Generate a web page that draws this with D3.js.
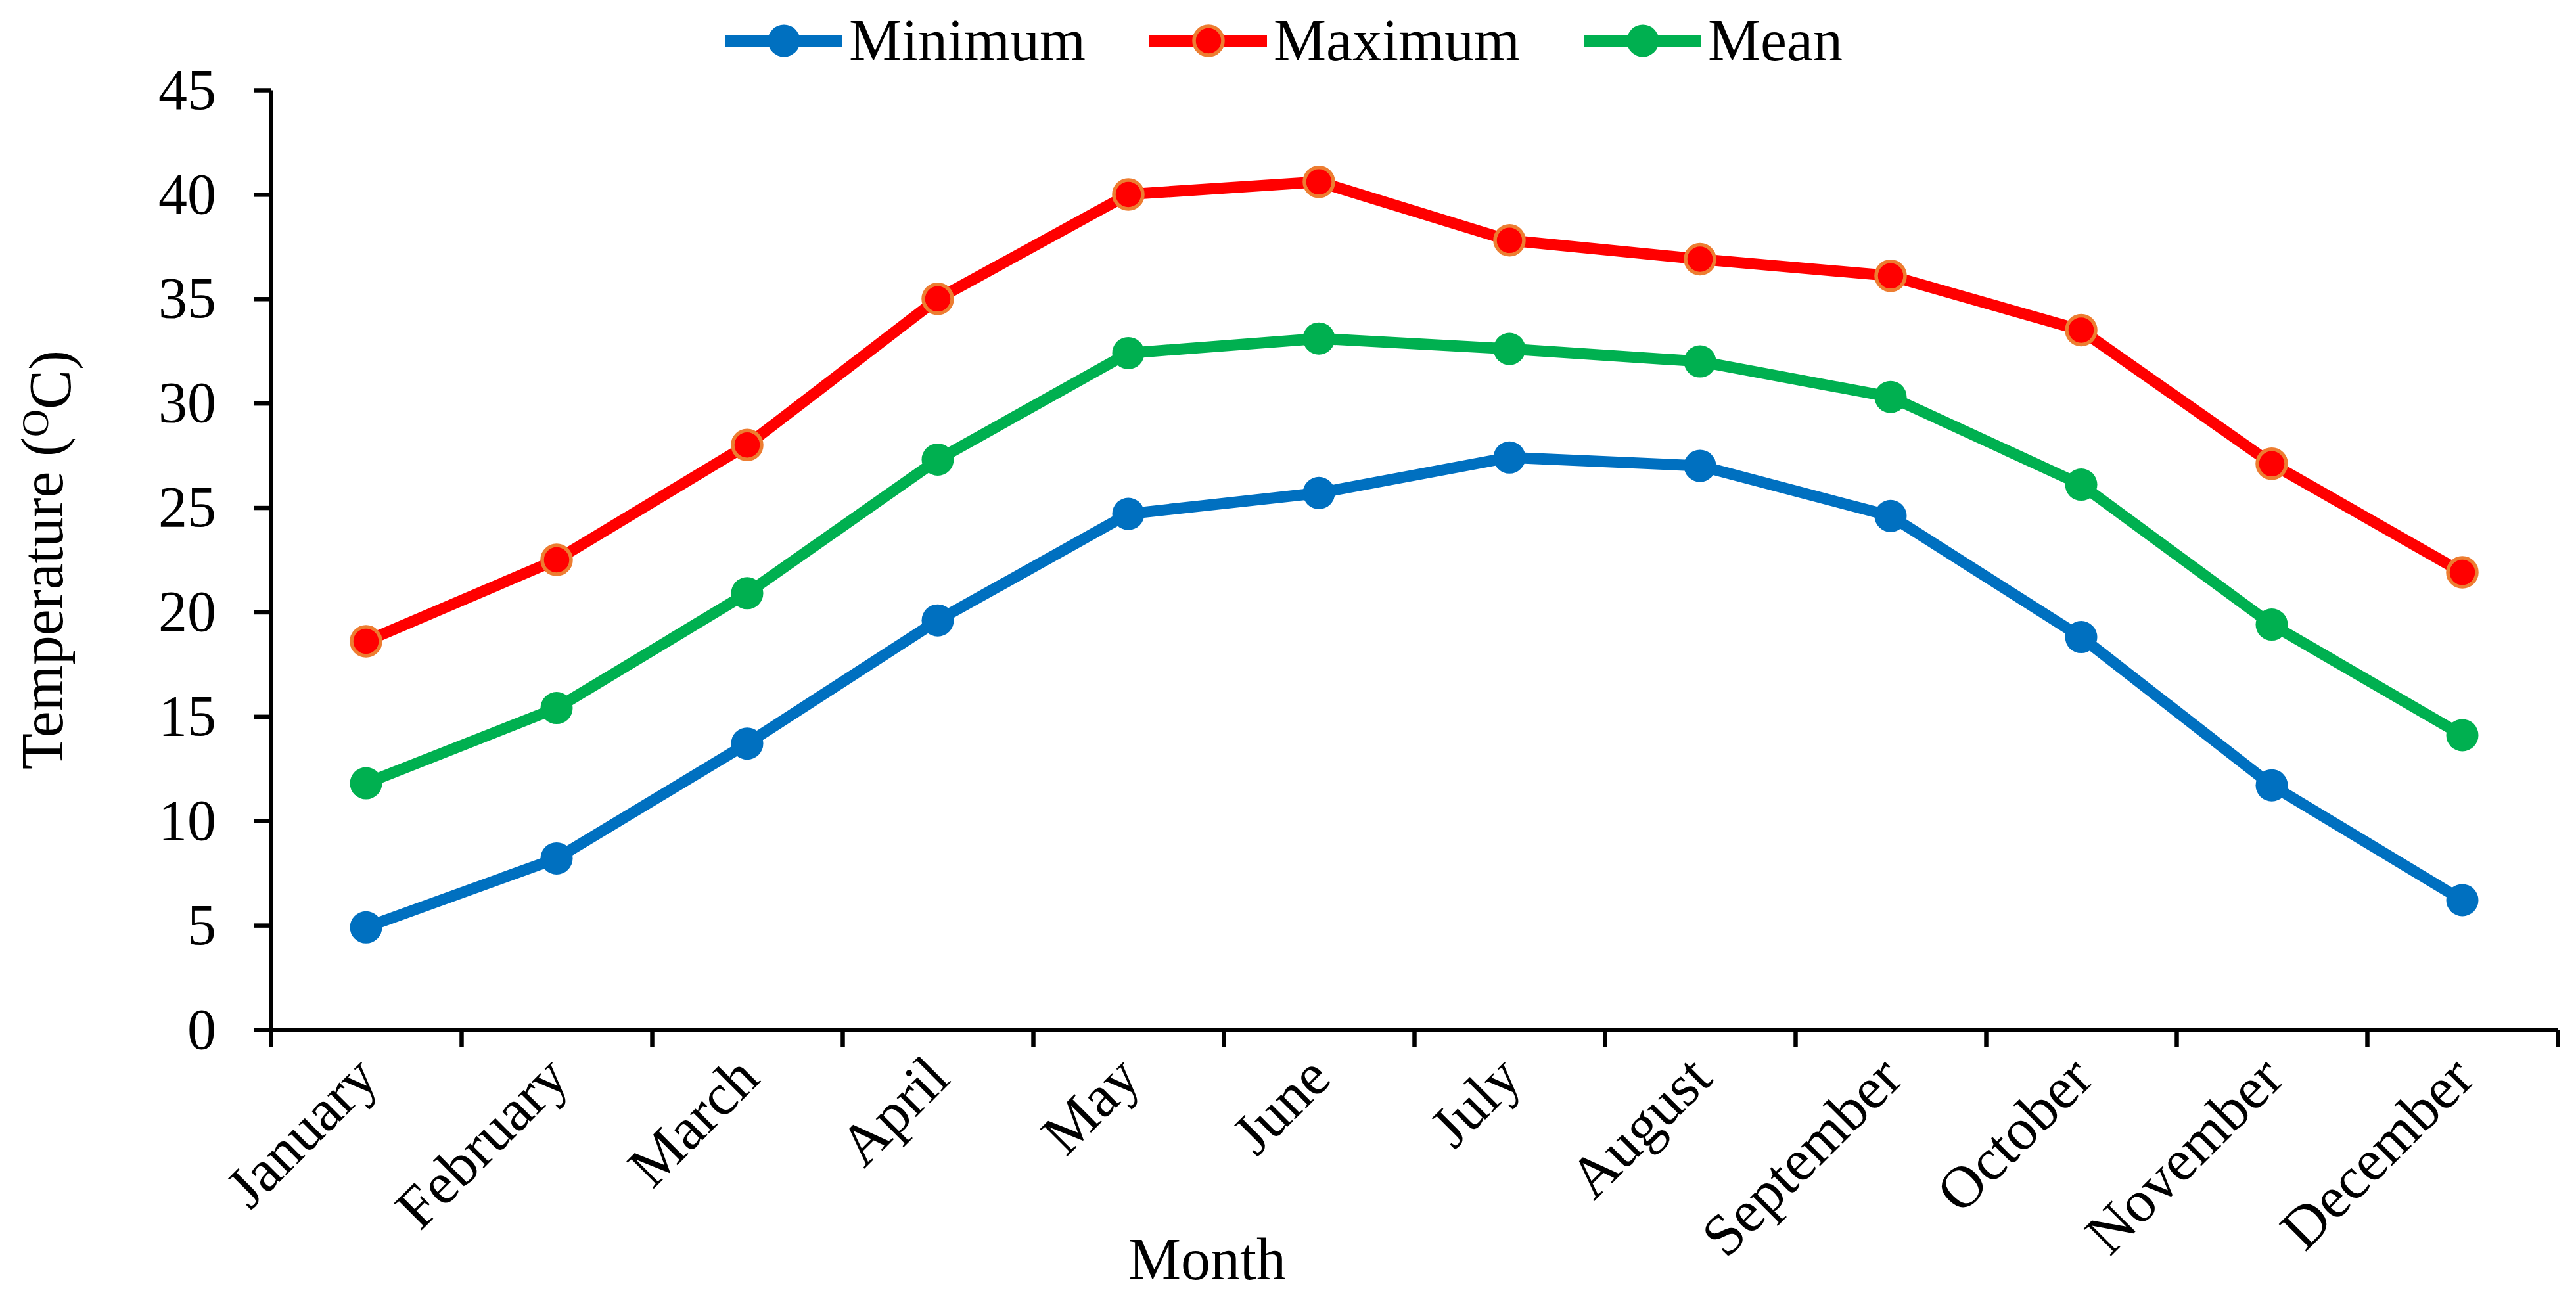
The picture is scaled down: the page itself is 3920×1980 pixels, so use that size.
<!DOCTYPE html>
<html>
<head>
<meta charset="utf-8">
<script src="https://cdn.jsdelivr.net/npm/d3@7"></script>
<style>
  body { margin: 0; background: #fff; }
  svg { display: block; }
  text { font-family: "Liberation Serif", "Times New Roman", serif; fill: #000; }
</style>
</head>
<body>
<div id="chart"></div>
<script>
var width = 3920, height = 1980;
var margin = { top: 137, right: 28, bottom: 413, left: 412 };
var innerW = width - margin.left - margin.right,
    innerH = height - margin.top - margin.bottom;

const months = ["January", "February", "March", "April", "May", "June",
    "July", "August", "September", "October", "November", "December"];

const minimum = [4.9, 8.2, 13.7, 19.6, 24.7, 25.7, 27.4, 27.0, 24.6, 18.8, 11.7, 6.2];
const maximum = [18.6, 22.5, 28.0, 35.0, 40.0, 40.6, 37.8, 36.9, 36.1, 33.5, 27.1, 21.9];
const mean = [11.8, 15.4, 20.9, 27.3, 32.4, 33.1, 32.6, 32.0, 30.3, 26.1, 19.4, 14.1];

const yTicks = [0, 5, 10, 15, 20, 25, 30, 35, 40, 45];

const series = [
    { name: "Minimum", values: minimum, color: "#0070C0", fill: "#0070C0", stroke: "none" },
    { name: "Maximum", values: maximum, color: "#FF0000", fill: "#FF0000", stroke: "#ED7D31" },
    { name: "Mean", values: mean, color: "#00B050", fill: "#00B050", stroke: "none" }
];

var svg = d3.select("#chart").append("svg")
    .attr("width", width)
    .attr("height", height);

var g = svg.append("g")
    .attr("transform", "translate(" + margin.left + "," + margin.top + ")");

var x = d3.scaleBand().domain(months).range([0, innerW]).padding(0);
var xEdge = d3.scaleLinear().domain([0, months.length]).range([0, innerW]);
var y = d3.scaleLinear().domain([0, 45]).range([innerH, 0]);

// y axis
var yAxis = g.append("g")
    .call(d3.axisLeft(y).tickValues(yTicks).tickSize(26).tickPadding(57).tickSizeOuter(0));
yAxis.select(".domain").attr("stroke", "#000").attr("stroke-width", 6.5);
yAxis.selectAll(".tick line").attr("stroke", "#000").attr("stroke-width", 6.5);
yAxis.selectAll(".tick text")
    .style("font-family", '"Liberation Serif", "Times New Roman", serif')
    .style("font-size", "88px");

// x axis: ticks sit on category boundaries
var xAxis = g.append("g")
    .attr("transform", "translate(0," + innerH + ")")
    .call(d3.axisBottom(xEdge).tickValues(d3.range(0, months.length + 1)).tickSize(26).tickFormat("").tickSizeOuter(0));
xAxis.select(".domain").attr("stroke", "#000").attr("stroke-width", 6.5);
xAxis.selectAll(".tick line").attr("stroke", "#000").attr("stroke-width", 6.5);

// month labels rotated
g.selectAll(".month-label")
    .data(months)
    .enter().append("text")
    .attr("class", "month-label")
    .attr("text-anchor", "end")
    .attr("transform", d => "translate(" + (x(d) + x.bandwidth() / 2 + 22) + "," + (innerH + 78) + ") rotate(-45)")
    .style("font-size", "90px")
    .text(d => d);

// axis titles
svg.append("text")
    .attr("text-anchor", "middle")
    .attr("x", 1837)
    .attr("y", 1947)
    .style("font-size", "90px")
    .text("Month");

var yTitle = svg.append("text")
    .attr("text-anchor", "middle")
    .attr("transform", "translate(95," + (margin.top + innerH / 2) + ") rotate(-90)")
    .style("font-size", "90px");
yTitle.append("tspan").text("Temperature (");
yTitle.append("tspan").attr("dy", "-0.38em").style("font-size", "58px").text("O");
yTitle.append("tspan").attr("dy", "0.38em").text("C)");

// lines and markers
var line = d3.line()
    .x((d, i) => x(months[i]) + x.bandwidth() / 2)
    .y(d => y(d));

series.forEach(function (s) {
    g.append("path")
        .datum(s.values)
        .attr("fill", "none")
        .attr("stroke", s.color)
        .attr("stroke-width", 17)
        .attr("stroke-linejoin", "round")
        .attr("d", line);

    g.selectAll(".pt-" + s.name)
        .data(s.values)
        .enter().append("circle")
        .attr("cx", (d, i) => x(months[i]) + x.bandwidth() / 2)
        .attr("cy", d => y(d))
        .attr("r", s.stroke == "none" ? 24.5 : 22)
        .attr("fill", s.fill)
        .attr("stroke", s.stroke)
        .attr("stroke-width", s.stroke == "none" ? 0 : 5.5);
});

// legend
var legendX = [1103, 1749, 2410];
var legend = svg.append("g");
series.forEach(function (s, i) {
    var lx = legendX[i];
    legend.append("line")
        .attr("x1", lx).attr("x2", lx + 179)
        .attr("y1", 62).attr("y2", 62)
        .attr("stroke", s.color)
        .attr("stroke-width", 18);
    legend.append("circle")
        .attr("cx", lx + 90).attr("cy", 62)
        .attr("r", s.stroke == "none" ? 24.5 : 22)
        .attr("fill", s.fill)
        .attr("stroke", s.stroke)
        .attr("stroke-width", s.stroke == "none" ? 0 : 5.5);
    legend.append("text")
        .attr("x", lx + 189)
        .attr("y", 92)
        .style("font-size", "90px")
        .text(s.name);
});
</script>
</body>
</html>
